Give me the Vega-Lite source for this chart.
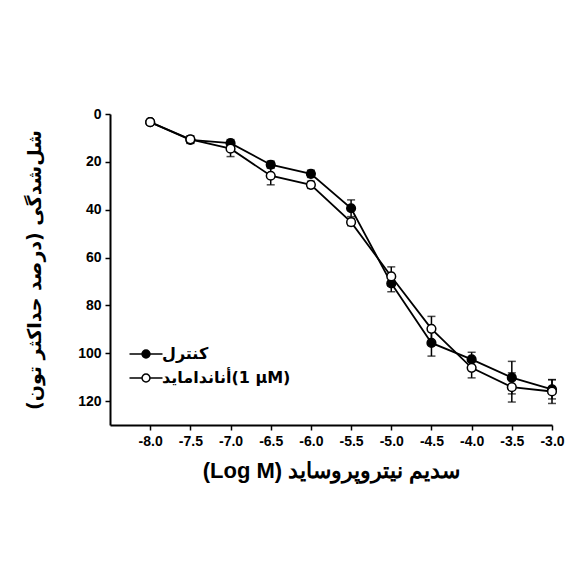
{
  "$schema": "https://vega.github.io/schema/vega-lite/v6.json",
  "autosize": "none",
  "width": 442,
  "height": 311,
  "padding": {"left": 110, "top": 114, "right": 22, "bottom": 150},
  "background": "white",
  "config": {
    "font": "Liberation Sans",
    "view": {"stroke": null},
    "axis": {
      "grid": false,
      "domainColor": "black",
      "domainWidth": 2,
      "tickColor": "black",
      "tickWidth": 1.5,
      "tickSize": 5,
      "labelColor": "black",
      "labelFont": "Liberation Sans",
      "labelFontWeight": "bold",
      "labelFontSize": 14,
      "labelFlush": false,
      "labelOverlap": false,
      "titleColor": "black",
      "titleFontWeight": "bold"
    }
  },
  "data": {
    "values": [
      {"x": -8.0, "s": "کنترل", "y": 3.4, "lo": 2.9, "hi": 3.9},
      {"x": -7.5, "s": "کنترل", "y": 10.8, "lo": 9.3, "hi": 12.3},
      {"x": -7.0, "s": "کنترل", "y": 12.2, "lo": 10.7, "hi": 13.7},
      {"x": -6.5, "s": "کنترل", "y": 21.2, "lo": 19.7, "hi": 22.7},
      {"x": -6.0, "s": "کنترل", "y": 25.0, "lo": 23.5, "hi": 26.5},
      {"x": -5.5, "s": "کنترل", "y": 39.4, "lo": 35.9, "hi": 42.9},
      {"x": -5.0, "s": "کنترل", "y": 70.8, "lo": 67.3, "hi": 74.3},
      {"x": -4.5, "s": "کنترل", "y": 95.7, "lo": 90.2, "hi": 101.2},
      {"x": -4.0, "s": "کنترل", "y": 102.6, "lo": 99.6, "hi": 105.6},
      {"x": -3.5, "s": "کنترل", "y": 110.2, "lo": 103.4, "hi": 117.0},
      {"x": -3.0, "s": "کنترل", "y": 115.1, "lo": 111.1, "hi": 119.1},
      {"x": -8.0, "s": "أناندامايد‎(1 µM)", "y": 3.4, "lo": 2.9, "hi": 3.9},
      {"x": -7.5, "s": "أناندامايد‎(1 µM)", "y": 10.6, "lo": 9.1, "hi": 12.1},
      {"x": -7.0, "s": "أناندامايد‎(1 µM)", "y": 14.5, "lo": 11.5, "hi": 17.8},
      {"x": -6.5, "s": "أناندامايد‎(1 µM)", "y": 25.8, "lo": 22.3, "hi": 29.6},
      {"x": -6.0, "s": "أناندامايد‎(1 µM)", "y": 29.6, "lo": 28.1, "hi": 31.1},
      {"x": -5.5, "s": "أناندامايد‎(1 µM)", "y": 45.2, "lo": 43.7, "hi": 46.7},
      {"x": -5.0, "s": "أناندامايد‎(1 µM)", "y": 67.9, "lo": 63.9, "hi": 71.9},
      {"x": -4.5, "s": "أناندامايد‎(1 µM)", "y": 89.8, "lo": 84.6, "hi": 95.0},
      {"x": -4.0, "s": "أناندامايد‎(1 µM)", "y": 106.1, "lo": 102.1, "hi": 110.3},
      {"x": -3.5, "s": "أناندامايد‎(1 µM)", "y": 114.2, "lo": 108.2, "hi": 120.4},
      {"x": -3.0, "s": "أناندامايد‎(1 µM)", "y": 116.0, "lo": 111.0, "hi": 121.0}
    ]
  },
  "encoding": {
    "x": {
      "field": "x", "type": "quantitative",
      "scale": {"domain": [-8.5, -3.0], "nice": false, "zero": false},
      "axis": {
        "values": [-8.0, -7.5, -7.0, -6.5, -6.0, -5.5, -5.0, -4.5, -4.0, -3.5, -3.0],
        "labelExpr": "replace(format(datum.value, '.1f'), '−', '-')",
        "labelFontSize": 14,
        "labelPadding": 4,
        "title": "(Log M) سدیم نیتروپروساید",
        "titleFontSize": 22,
        "titlePadding": 12,
        "titleFont": "Liberation Sans"
      }
    },
    "y": {
      "field": "y", "type": "quantitative",
      "scale": {"domain": [0, 130], "reverse": true, "nice": false},
      "axis": {
        "values": [0, 20, 40, 60, 80, 100, 120],
        "labelPadding": 4,
        "title": "شل‌شدگی (درصد حداکثر تون)‏",
        "titleFontSize": 19,
        "titlePadding": 33,
        "titleFont": "DejaVu Sans"
      }
    }
  },
  "layer": [
    {
      "mark": {"type": "line", "color": "black", "strokeWidth": 1.8},
      "encoding": {"detail": {"field": "s"}}
    },
    {
      "mark": {"type": "rule", "color": "black", "strokeWidth": 1.5},
      "encoding": {"y": {"field": "lo", "type": "quantitative"}, "y2": {"field": "hi"}}
    },
    {
      "mark": {"type": "tick", "orient": "horizontal", "color": "black", "size": 8, "thickness": 1.5},
      "encoding": {"y": {"field": "lo", "type": "quantitative"}}
    },
    {
      "mark": {"type": "tick", "orient": "horizontal", "color": "black", "size": 8, "thickness": 1.5},
      "encoding": {"y": {"field": "hi", "type": "quantitative"}}
    },
    {
      "mark": {"type": "point", "shape": "circle", "filled": false, "stroke": "black", "strokeWidth": 1.5, "size": 75, "opacity": 1},
      "encoding": {
        "order": {"field": "s", "sort": "descending"},
        "fill": {
          "field": "s", "type": "nominal",
          "scale": {"domain": ["کنترل", "أناندامايد‎(1 µM)"], "range": ["black", "white"]},
          "legend": {
            "title": null,
            "orient": "none",
            "legendX": 24,
            "legendY": 228,
            "symbolType": "M-1.5,0H-0.36M0.36,0H1.5M-0.36,0A0.36,0.36 0 1,1 0.36,0A0.36,0.36 0 1,1 -0.36,0Z",
            "symbolSize": 484,
            "symbolStrokeColor": "black",
            "symbolStrokeWidth": 1.5,
            "symbolOpacity": 1,
            "labelFontSize": 16,
            "labelFontWeight": "bold",
            "labelColor": "black",
            "labelFont": "DejaVu Sans",
            "labelOffset": 4,
            "rowPadding": 4
          }
        }
      }
    }
  ]
}
